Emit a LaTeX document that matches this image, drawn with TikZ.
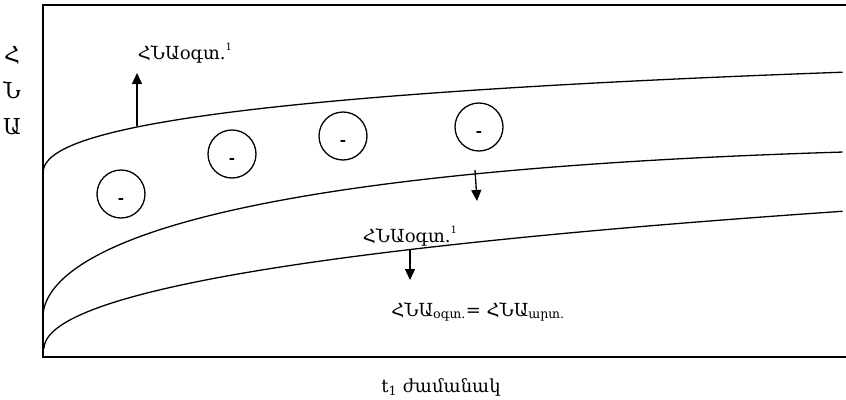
\documentclass[tikz,border=0pt]{standalone}
\usepackage{fontspec}
\setmainfont{DejaVu Serif}
\usetikzlibrary{arrows.meta}
\newcommand{\supone}{\raisebox{0.5em}{\fontsize{10}{10}\selectfont 1}}
\begin{document}
\begin{tikzpicture}[x=1pt,y=-1pt,
  curve/.style={line width=1.3pt, line join=round},
  frame/.style={line width=1.3pt},
  arr/.style={line width=1.3pt,-{Triangle[length=11pt,width=10pt]}},
  ball/.style={circle,draw,line width=1.3pt,minimum size=48pt,inner sep=0pt,
    font=\fontsize{15}{17}\selectfont\bfseries,text height=19pt,text depth=0pt},
  lbl/.style={font=\fontsize{18}{20}\selectfont, inner sep=0pt},
  axl/.style={font=\fontsize{22}{24}\selectfont, inner sep=0pt},
  declare function={
    ftop(\d)=6.55*(\d)^0.45-0.0385*\d;
    fmid(\d)=7.85*(\d)^0.55-0.1827*\d;
    fbot(\d)=5.88*(\d)^0.5-0.0356*\d;}]
\useasboundingbox (0,0) rectangle (846,399);
% frame
\draw[frame] (846,5) -- (43,5) -- (43,357) -- (846,357);
% curves
\draw[curve] plot[domain=0.002:1,samples=150,smooth] ({43+803*\x*\x},{174-ftop(803*\x*\x)});
\draw[curve] plot[domain=0.002:1,samples=150,smooth] ({43+803*\x*\x},{316-fmid(803*\x*\x)});
\draw[curve] plot[domain=0.002:1,samples=150,smooth] ({44+802*\x*\x},{349-fbot(802*\x*\x)});
% balls
\node[ball] (b1) at (121,194) {-};
\node[ball] (b2) at (232,154) {-};
\node[ball] (b3) at (343,136) {-};
\node[ball] (b4) at (479,127) {-};
% axis label
\node[axl] (y1) at (12,55) {Հ};
\node[axl] (y2) at (12,90) {Ն};
\node[axl] (y3) at (12,127) {Ա};
% labels
\node[lbl] (l1) at (185,53) {ՀՆԱօգտ.\supone};
\node[lbl] (l2) at (410,236) {ՀՆԱօգտ.\supone};
\node[lbl] (l3) at (478,312) {ՀՆԱ\textsubscript{օգտ.}= ՀՆԱ\textsubscript{արտ.}};
\node[lbl] (xl) at (441,387) {t\textsubscript{1} ժամանակ};
% arrows
\coordinate (a1s) at (137,126);
\coordinate (a1e) at (137,73);
\coordinate (a2s) at (475,170);
\coordinate (a2e) at (477,201);
\coordinate (a3s) at (410,250);
\coordinate (a3e) at (410,280);
\draw[arr] (a1s) -- (a1e);
\draw[arr] (a2s) -- (a2e);
\draw[arr] (a3s) -- (a3e);
\end{tikzpicture}
\end{document}
